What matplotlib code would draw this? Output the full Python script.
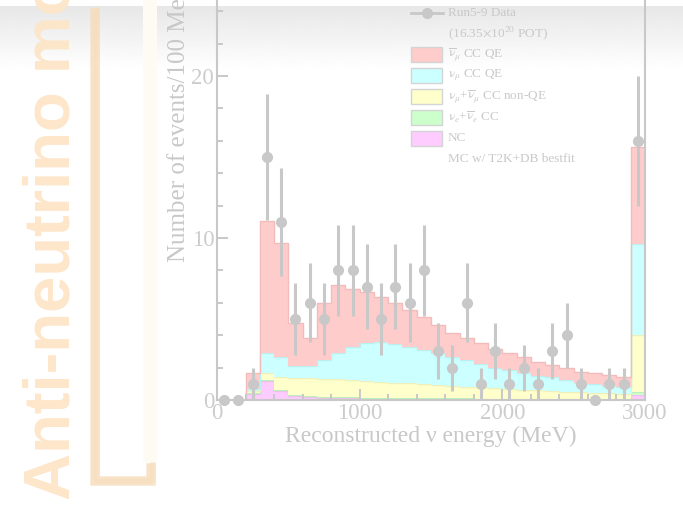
import numpy as np
import matplotlib.pyplot as plt
from matplotlib.patches import Rectangle

plt.rcParams['font.family'] = ['Liberation Serif', 'DejaVu Serif']
plt.rcParams['mathtext.fontset'] = 'stix'

# 100 MeV bins, last bin holds the overflow
edges = np.arange(0, 3001, 100)
centers = edges[:-1] + 50

data = [0, 0, 1, 15, 11, 5, 6, 5, 8, 8, 7, 5, 7, 6, 8, 3, 2, 6, 1, 3,
        1, 2, 1, 3, 4, 1, 0, 1, 1, 16]

nc = [0, 0, 0.40, 1.20, 0.55, 0.27, 0.18, 0.14, 0.12, 0.11, 0.10, 0.09, 0.08, 0.08, 0.07,
      0.07, 0.06, 0.06, 0.05, 0.05, 0.05, 0.04, 0.04, 0.04, 0.04, 0.03, 0.03, 0.03, 0.03, 0.30]
nue_cc = [0, 0, 0.03, 0.05, 0.05, 0.05, 0.05, 0.05, 0.05, 0.05, 0.05, 0.05, 0.04, 0.04, 0.04,
          0.04, 0.04, 0.04, 0.04, 0.03, 0.03, 0.03, 0.03, 0.03, 0.03, 0.03, 0.03, 0.02, 0.02, 0.20]
numu_nonqe = [0, 0, 0.12, 0.40, 0.80, 1.06, 1.12, 1.13, 1.10, 1.06, 1.02, 0.98, 0.95, 0.90, 0.86,
              0.81, 0.77, 0.72, 0.69, 0.65, 0.61, 0.57, 0.53, 0.49, 0.45, 0.42, 0.39, 0.37, 0.33, 3.50]
numu_qe = [0, 0, 0.10, 1.23, 1.27, 0.72, 0.75, 1.16, 1.61, 2.08, 2.33, 2.45, 2.39, 2.25, 2.09,
           1.96, 1.76, 1.65, 1.42, 1.22, 1.16, 1.01, 0.88, 0.84, 0.71, 0.59, 0.54, 0.44, 0.40, 5.63]
anumu_qe = [0, 0, 1.00, 8.19, 7.03, 2.65, 1.74, 3.52, 4.22, 3.58, 3.15, 2.81, 2.51, 2.28, 2.09,
            1.75, 1.49, 1.34, 1.30, 1.18, 1.03, 0.98, 0.89, 0.76, 0.72, 0.68, 0.66, 0.68, 0.62, 5.97]

legend_labels = ['Run5-9 Data',
                 r'(16.35$\times$10$^{20}$ POT)',
                 r'$\overline{\mathrm{\nu}}_{\mu}$ CC QE',
                 r'$\mathrm{\nu}_{\mu}$ CC QE',
                 r'$\mathrm{\nu}_{\mu}$+$\overline{\mathrm{\nu}}_{\mu}$ CC non-QE',
                 r'$\mathrm{\nu}_{e}$+$\overline{\mathrm{\nu}}_{e}$ CC',
                 'NC',
                 'MC w/ T2K+DB bestfit']

W, H = 683, 507
fig = plt.figure(figsize=(W / 100, H / 100), dpi=100)

# page background: haze at the top, side title and bracket
bg = fig.add_axes([0, 0, 1, 1], zorder=0)
rows = np.arange(H)
shade = np.clip(0.905 + 0.095 * (rows - 6) / 64.0, 0.905, 1.0)
shade[:6] = 1.0
bg.imshow(np.tile(shade[:, None], (1, 2)), cmap='gray', vmin=0, vmax=1,
          extent=(0, W, H, 0), aspect='auto', interpolation='bilinear')
bg.set_xlim(0, W)
bg.set_ylim(H, 0)
bg.axis('off')

bg.text(70, 500, 'Anti-neutrino mode', rotation=90, rotation_mode='anchor',
        ha='left', va='baseline', fontsize=47, family='Liberation Sans',
        weight='bold', color='#fde6c9')
bg.add_patch(Rectangle((143, 0), 14, 462, color='#fefaf4', lw=0))
# rough marker-pen bracket, a few overlapping strokes
for dx, dy, lw, a in [(0, 0, 7, 0.65), (-1.5, 1, 4, 0.45), (1.5, -1, 4, 0.45)]:
    bg.plot(np.array([95, 95, 151, 151]) + dx, np.array([8, 481, 481, 463]) + dy,
            color='#f7dcba', lw=lw, alpha=a, solid_joinstyle='miter',
            solid_capstyle='butt')

# legend
fills = ['#ffcccc', '#ccffff', '#ffffcc', '#ccffcc', '#ffccff']
txt_col = '#c9c9c9'
for i, lab in enumerate(legend_labels):
    yy = 12.7 + 20.9 * i
    bg.text(448, yy, lab, fontsize=9.5, color=txt_col, va='center', ha='left')
    if 2 <= i <= 6:
        bg.add_patch(Rectangle((411, yy - 7.5), 31, 15, facecolor=fills[i - 2],
                               edgecolor='#d4d4d4', lw=1))
bg.plot([411, 443], [12.7, 12.7], color='#c8c8c8', lw=2)
bg.plot([427], [12.7], 'o', color='#c8c8c8', ms=7)

# histogram panel
ax = fig.add_axes([217 / W, 107 / H, 428 / W, 421.2 / H], zorder=1)
ax.patch.set_alpha(0)

layers = [(nc, '#ffccff', '#f2bcf2'),
          (nue_cc, '#ccffcc', '#bcefbc'),
          (numu_nonqe, '#ffffcc', '#efefbc'),
          (numu_qe, '#ccffff', '#bcefef'),
          (anumu_qe, '#ffcccc', '#f2bcbc')]
base = np.zeros(len(centers))
for vals, col, edge in layers:
    top = base + np.array(vals)
    ax.stairs(top, edges, baseline=base, fill=True, color=col, lw=0)
    ax.stairs(top, edges, baseline=None, color=edge, lw=1)
    base = top

counts = np.array(data, dtype=float)
ax.errorbar(centers, counts, yerr=np.sqrt(counts), fmt='o', color='#c8c8c8',
            ms=7, elinewidth=2.2, capsize=0, clip_on=False, zorder=5)

ax.set_xlim(0, 3000)
ax.set_ylim(0, 26)
ax.set_xticks([0, 1000, 2000, 3000])
ax.set_xticks(np.arange(0, 3001, 200), minor=True)
ax.set_yticks([0, 10, 20])
ax.set_yticks(np.arange(0, 27, 2), minor=True)
ax.tick_params(which='both', direction='in', color='#c8c8c8', width=1.4,
               labelcolor='#cccccc', labelsize=16.5, pad=2)
ax.tick_params(which='major', length=8)
ax.tick_params(which='minor', length=4)
for s in ax.spines.values():
    s.set_color('#c8c8c8')
    s.set_linewidth(1.5)

ax.set_xlabel('Reconstructed ν energy (MeV)', fontsize=17, color='#c8c8c8')
ax.xaxis.set_label_coords(0.5, -0.062)
yl = ax.set_ylabel('Number of events/100 MeV', fontsize=18, color='#c8c8c8')
yl.set_horizontalalignment('left')
ax.yaxis.set_label_coords(-0.063, (400 - 262) / 421.2)

fig.savefig('out.png', dpi=100)
